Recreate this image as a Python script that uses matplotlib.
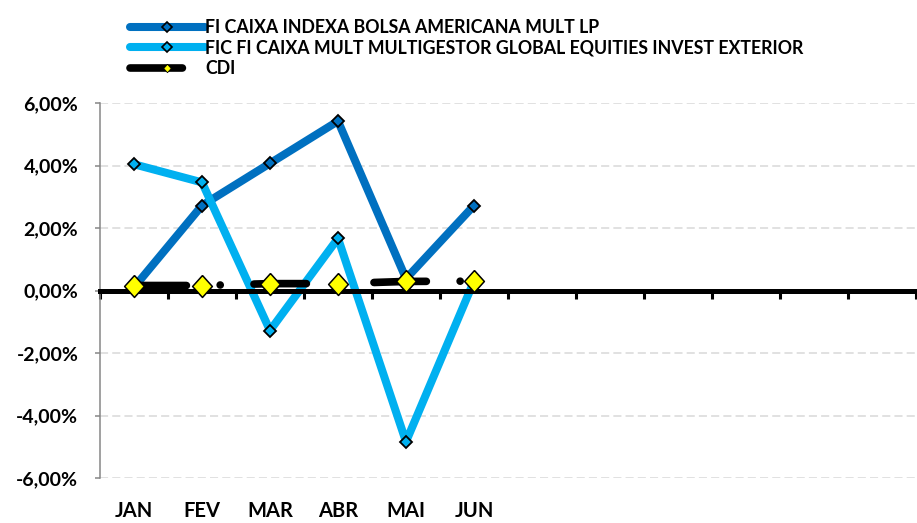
import matplotlib
matplotlib.use('Agg')
import matplotlib.pyplot as plt
import matplotlib.transforms as mtransforms
from matplotlib.lines import Line2D
from matplotlib.ticker import FuncFormatter

# dados (rentabilidade mensal, %)
meses = ['JAN', 'FEV', 'MAR', 'ABR', 'MAI', 'JUN', '', '', '', '', '', '']
indexa = [0.10, 2.72, 4.07, 5.42, 0.38, 2.72]
multigestor = [4.04, 3.46, -1.28, 1.67, -4.84, 0.30]
cdi = [0.16, 0.16, 0.22, 0.22, 0.29, 0.30]
yticks = [-6, -4, -2, 0, 2, 4, 6]

nome1 = 'FI CAIXA INDEXA BOLSA AMERICANA MULT LP'
nome2 = 'FIC FI CAIXA MULT MULTIGESTOR GLOBAL EQUITIES INVEST EXTERIOR'
nome3 = 'CDI'

azul = '#0070C0'
azul_claro = '#00B0F0'
amarelo = '#FFFF00'
tracejado_cdi = (0, (6.86, 4.42, 0.01, 4.42))

plt.rcParams['font.family'] = ['Lato', 'DejaVu Sans']
plt.rcParams['font.weight'] = 'bold'

fig = plt.figure(figsize=(9.17, 5.23), dpi=100)
ax = fig.add_axes([100 / 917, 1 - 478 / 523, 816 / 917, 375 / 523])

x = list(range(len(indexa)))
losango = [(0, 1), (0.9, 0), (0, -1), (-0.9, 0), (0, 1)]

ax.plot(x, indexa, color=azul, lw=5.8, marker='D', ms=6.2, mfc=azul, mec='black',
        mew=1.3, solid_joinstyle='round', solid_capstyle='round', zorder=3)
ax.plot(x, multigestor, color=azul_claro, lw=5.8, marker='D', ms=6.2, mfc=azul_claro,
        mec='black', mew=1.3, solid_joinstyle='round', solid_capstyle='round', zorder=4)
ax.plot(x, cdi, color='black', lw=5.5, linestyle=tracejado_cdi,
        dash_capstyle='round', zorder=6)
ax.plot(x, cdi, linestyle='none', marker=losango, ms=15.8, mfc=amarelo, mec='black',
        mew=1.1, zorder=7)

ax.set_xlim(-0.5, len(meses) - 0.5)
ax.set_ylim(-6, 6)

# eixo x passando pelo zero
ax.spines['bottom'].set_position(('data', 0))
ax.spines['bottom'].set_linewidth(3.6)
ax.spines['bottom'].set_color('black')
ax.spines['bottom'].set_zorder(5)
ax.spines['top'].set_visible(False)
ax.spines['right'].set_visible(False)
ax.spines['left'].set_color('#868686')
ax.spines['left'].set_linewidth(1.1)

ax.set_xticks([i - 0.5 for i in range(len(meses) + 1)])
ax.set_xticklabels([])
ax.tick_params(axis='x', direction='out', length=5.4, width=2.2, color='black')

ax.set_yticks(yticks)
ax.yaxis.set_major_formatter(FuncFormatter(lambda v, p: ('%.2f%%' % v).replace('.', ',')))
ax.tick_params(axis='y', direction='out', length=3.6, width=1.1, color='#868686',
               labelsize=14, pad=12)
for t in ax.get_yticklabels():
    t.set_fontweight('bold')

ax.grid(axis='y', color='#D9D9D9', lw=1.1, linestyle=(0, (5.3, 2.7)), zorder=0)
ax.set_axisbelow(True)

trans = mtransforms.blended_transform_factory(ax.transData, fig.transFigure)
for i, m in enumerate(meses):
    ax.text(i, 1 - 511 / 523, m, transform=trans, ha='center', va='center',
            fontsize=14.5, fontweight='bold')

handles = [
    Line2D([], [], color=azul, lw=5.8, marker='D', ms=5, mfc=azul, mec='black',
           mew=1.2, solid_capstyle='round'),
    Line2D([], [], color=azul_claro, lw=5.8, marker='D', ms=5, mfc=azul_claro,
           mec='black', mew=1.2, solid_capstyle='round'),
    Line2D([], [], color='black', lw=5.5, linestyle=tracejado_cdi, dash_capstyle='round',
           marker=losango, ms=6, mfc=amarelo, mec='black', mew=0.6),
]
fig.legend(handles, [nome1, nome2, nome3], loc='upper left',
           bbox_to_anchor=(121 / 917, 1 - 10 / 523), frameon=False,
           handlelength=4.2, handletextpad=0.05, labelspacing=0.2, borderpad=0,
           prop={'weight': 'bold', 'size': 12.8})

fig.savefig('out.png', dpi=100)
